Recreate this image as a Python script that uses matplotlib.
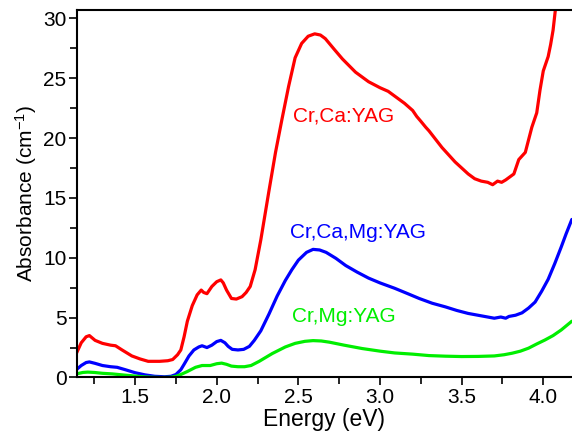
import matplotlib
matplotlib.use("Agg")
import matplotlib.pyplot as plt
from matplotlib.ticker import MultipleLocator

plt.rcParams['font.family'] = ['Liberation Sans', 'DejaVu Sans']
plt.rcParams['mathtext.default'] = 'regular'

# Cr,Ca:YAG (red)
e_ca = [1.14, 1.17, 1.20, 1.22, 1.255, 1.30, 1.35, 1.38, 1.42, 1.48, 1.53, 1.58, 1.65, 1.70,
        1.73, 1.76, 1.78, 1.80, 1.82, 1.85, 1.88, 1.905, 1.92, 1.94, 1.97, 2.00, 2.025, 2.04,
        2.06, 2.09, 2.12, 2.155, 2.18, 2.205, 2.235, 2.27, 2.32, 2.36, 2.40, 2.44, 2.48, 2.52,
        2.56, 2.60, 2.635, 2.665, 2.72, 2.77, 2.85, 2.93, 3.00, 3.05, 3.10, 3.15, 3.20, 3.225,
        3.25, 3.28, 3.30, 3.34, 3.38, 3.42, 3.46, 3.50, 3.54, 3.58, 3.62, 3.66, 3.69, 3.72,
        3.745, 3.77, 3.80, 3.82, 3.85, 3.89, 3.93, 3.96, 3.98, 4.00, 4.03, 4.045, 4.06, 4.075]
a_ca = [2.0, 2.9, 3.4, 3.5, 3.1, 2.85, 2.7, 2.65, 2.3, 1.8, 1.55, 1.35, 1.35, 1.4,
        1.5, 1.9, 2.3, 3.4, 4.7, 6.0, 6.9, 7.3, 7.1, 7.0, 7.6, 8.0, 8.15, 7.9,
        7.3, 6.6, 6.55, 6.75, 7.1, 7.6, 9.0, 11.5, 15.6, 18.8, 21.6, 24.3, 26.7, 27.9,
        28.5, 28.7, 28.6, 28.3, 27.4, 26.6, 25.5, 24.7, 24.2, 23.9, 23.4, 22.9, 22.3, 21.8,
        21.4, 20.9, 20.6, 19.9, 19.2, 18.6, 18.0, 17.5, 17.0, 16.6, 16.4, 16.3, 16.1, 16.4,
        16.3, 16.5, 16.8, 17.0, 18.2, 18.8, 20.9, 22.1, 24.0, 25.6, 26.8, 27.8, 29.0, 30.8]

# Cr,Ca,Mg:YAG (blue)
e_camg = [1.14, 1.17, 1.20, 1.22, 1.255, 1.30, 1.35, 1.39, 1.44, 1.50, 1.56, 1.62, 1.68, 1.72,
          1.75, 1.78, 1.80, 1.83, 1.86, 1.89, 1.91, 1.94, 1.97, 2.00, 2.025, 2.05, 2.07, 2.095,
          2.13, 2.165, 2.20, 2.23, 2.27, 2.32, 2.37, 2.42, 2.46, 2.50, 2.55, 2.59, 2.63, 2.67,
          2.73, 2.79, 2.86, 2.93, 3.00, 3.09, 3.17, 3.24, 3.32, 3.40, 3.47, 3.54, 3.62, 3.70,
          3.74, 3.77, 3.79, 3.83, 3.87, 3.91, 3.95, 3.99, 4.03, 4.07, 4.11, 4.14, 4.175]
a_camg = [0.65, 1.0, 1.25, 1.3, 1.18, 1.0, 0.9, 0.85, 0.65, 0.4, 0.22, 0.1, 0.06, 0.1,
          0.25, 0.65, 1.1, 1.8, 2.3, 2.55, 2.65, 2.5, 2.7, 3.0, 3.1, 2.9, 2.6, 2.35,
          2.3, 2.35, 2.6, 3.1, 3.9, 5.3, 6.8, 8.1, 9.0, 9.8, 10.45, 10.7, 10.65, 10.45,
          9.95, 9.35, 8.8, 8.3, 7.9, 7.45, 7.0, 6.6, 6.2, 5.9, 5.6, 5.35, 5.15, 4.95,
          5.05, 4.95, 5.1, 5.2, 5.4, 5.8, 6.3, 7.2, 8.2, 9.5, 10.9, 12.0, 13.2]

# Cr,Mg:YAG (green)
e_mg = [1.14, 1.18, 1.21, 1.25, 1.30, 1.36, 1.42, 1.50, 1.56, 1.60, 1.66, 1.72, 1.75, 1.78,
        1.82, 1.87, 1.91, 1.96, 2.00, 2.03, 2.06, 2.09, 2.13, 2.17, 2.21, 2.26, 2.34, 2.42,
        2.48, 2.54, 2.59, 2.64, 2.69, 2.78, 2.89, 3.00, 3.09, 3.20, 3.30, 3.40, 3.50, 3.60,
        3.70, 3.76, 3.81, 3.86, 3.91, 3.96, 4.01, 4.06, 4.11, 4.175]
a_mg = [0.3, 0.42, 0.45, 0.42, 0.35, 0.3, 0.22, 0.12, 0.05, 0.02, 0.0, 0.02, 0.1, 0.25,
        0.5, 0.85, 1.0, 1.0, 1.15, 1.2, 1.1, 0.95, 0.9, 0.9, 1.0, 1.35, 2.0, 2.55,
        2.85, 3.02, 3.08, 3.05, 2.95, 2.7, 2.42, 2.2, 2.05, 1.95, 1.83, 1.78, 1.75, 1.76,
        1.8, 1.9, 2.03, 2.2, 2.45, 2.8, 3.13, 3.5, 3.97, 4.7]

labels = ['Cr,Ca:YAG', 'Cr,Ca,Mg:YAG', 'Cr,Mg:YAG']
label_x = [2.47, 2.45, 2.46]
label_y = [21.8, 12.1, 5.1]
colors = ['#ff0000', '#0000ff', '#00ee00']

fig = plt.figure(figsize=(5.72, 4.34), dpi=100)
ax = fig.add_axes([0.1346, 0.1302, 0.8654, 0.847])

for (x, y), c in zip([(e_ca, a_ca), (e_camg, a_camg), (e_mg, a_mg)], colors):
    ax.plot(x, y, color=c, lw=2.3, solid_joinstyle='round', solid_capstyle='round')

for txt, tx, ty, c in zip(labels, label_x, label_y, colors):
    ax.text(tx, ty, txt, color=c, fontsize=15, va='center', ha='left')

ax.set_xlim(1.144, 4.176)
ax.set_ylim(0, 30.7)
ax.xaxis.set_major_locator(MultipleLocator(0.5))
ax.xaxis.set_minor_locator(MultipleLocator(0.25))
ax.yaxis.set_major_locator(MultipleLocator(5))
ax.yaxis.set_minor_locator(MultipleLocator(2.5))
ax.xaxis.set_major_formatter(plt.FormatStrFormatter('%.1f'))
ax.tick_params(which='both', direction='out', width=1.2, labelsize=15, pad=2)
ax.tick_params(which='major', length=5.5)
ax.tick_params(which='minor', length=5)
ax.tick_params(axis='x', top=False)
ax.spines['right'].set_visible(False)
for s in ['left', 'bottom', 'top']:
    ax.spines[s].set_linewidth(1.5)

ax.set_xlabel('Energy (eV)', fontsize=16.5, labelpad=1)
ax.set_ylabel('Absorbance (cm$^{-1}$)', fontsize=15, labelpad=3)

fig.savefig('out.png', dpi=100)
